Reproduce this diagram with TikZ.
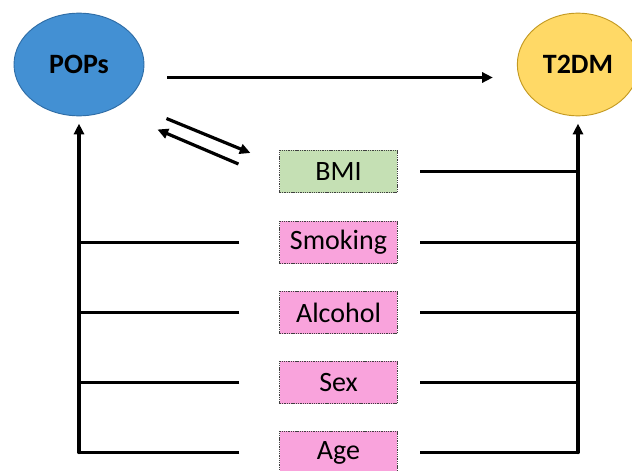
\documentclass[tikz,border=0pt]{standalone}
\usepackage{fontspec}
\setmainfont{Carlito}
\usepackage{tikz}
\usetikzlibrary{shapes.geometric, arrows.meta, positioning, calc}
\definecolor{popsblue}{HTML}{4390D3}
\definecolor{popsedge}{HTML}{2F6DA6}
\definecolor{diabyellow}{HTML}{FFD966}
\definecolor{diabedge}{HTML}{C49A22}
\definecolor{bmigreen}{HTML}{C5E0B4}
\definecolor{riskpink}{HTML}{F9A3DC}

\begin{document}
\begin{tikzpicture}[x=0.75pt, y=-0.75pt,
  outcome/.style={ellipse, draw, line width=0.7pt, inner sep=0pt,
    minimum height=77pt, font=\fontsize{21}{24}\selectfont\bfseries},
  factor/.style={rectangle, draw=black!75, line width=0.6pt,
    dash pattern=on 1pt off 0.7pt, minimum width=88pt, minimum height=32pt,
    inner sep=0pt, font=\fontsize{21}{24}\selectfont},
  link/.style={line width=2.4pt},
  tip/.style={-{Triangle[length=8pt,width=7.5pt]}}]
  \useasboundingbox (0,0) rectangle (632,471);

  % Exposure and outcome
  \node[outcome, fill=popsblue, draw=popsedge, minimum width=97.5pt] (pops) at (79,64.5) {POPs};
  \node[outcome, fill=diabyellow, draw=diabedge, minimum width=91pt] (t2dm) at (578,64.5) {T2DM};

  % Main association
  \draw[link, tip] ([shift={(23,13)}]pops.east) -- ([shift={(-24,13)}]t2dm.west);

  % Covariates - BMI first, then the pink ones in a column
  \node[factor, fill=bmigreen] (bmi) at (338.5,171.5) {BMI};
  \foreach \name/\txt/\y in {smoking/Smoking/242.5, alcohol/Alcohol/312.5,
                             sex/Sex/382.5, age/Age/452.5} {
    \node[factor, fill=riskpink] (\name) at (338.5,\y) {\txt};
  }

  % POPs <-> BMI (two directions)
  \draw[link, tip] ([shift={(22,54)}]pops.east) -- ([shift={(-29,-18.5)}]bmi.west);
  \draw[link, tip] ([shift={(-41,-7.5)}]bmi.west) -- ([shift={(13,65)}]pops.east);

  % Left bracket into POPs
  \foreach \name in {smoking, alcohol, sex, age} {
    \draw[link] ([xshift=-30pt]\name.west) -- (\name.west -| pops.south);
  }
  \draw[link, tip, line cap=round] (age.west -| pops.south) -- ([yshift=-5.5pt]pops.south);

  % Right bracket into T2DM
  \foreach \name in {bmi, smoking, alcohol, sex, age} {
    \draw[link] ([xshift=17pt]\name.east) -- (\name.east -| t2dm.south);
  }
  \draw[link, tip, line cap=round] (age.east -| t2dm.south) -- ([yshift=-5.5pt]t2dm.south);

\end{tikzpicture}
\end{document}
